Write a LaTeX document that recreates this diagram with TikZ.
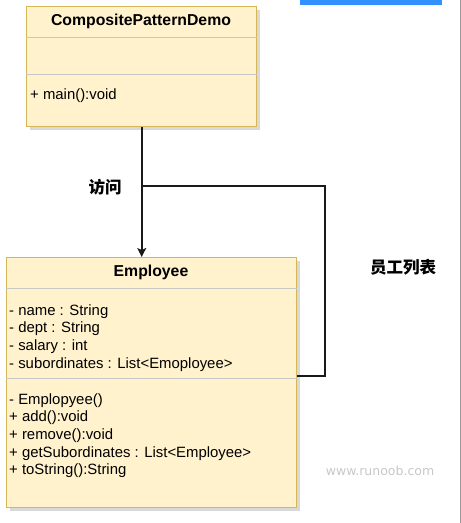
\documentclass[tikz,border=0pt]{standalone}
\usepackage{fontspec}
\setmainfont{Liberation Sans}
\newfontfamily\cjk{Noto Sans CJK SC}
\newfontfamily\markfont{DejaVu Sans}
\usetikzlibrary{arrows.meta, shadows}

\definecolor{umlfill}{HTML}{FFF2CC}
\definecolor{umldraw}{HTML}{D6B656}
\definecolor{sepgray}{HTML}{C8C8C8}
\definecolor{barblue}{HTML}{3390FF}

\begin{document}
\begin{tikzpicture}[x=1pt, y=-1pt]

\tikzset{umlbox/.style = {draw=umldraw, fill=umlfill, line width=1.4pt, anchor=north west, inner sep=0pt,
    drop shadow={shadow xshift=3pt, shadow yshift=-3pt, fill=black!25, opacity=0.6}}}
\tikzset{title/.style = {anchor=base, inner sep=0pt, font=\fontsize{15.8}{18}\selectfont\bfseries}}
\tikzset{member/.style = {anchor=base west, inner sep=0pt, font=\fontsize{14.9}{18}\selectfont}}
\tikzset{sep/.style = {draw=sepgray, line width=1pt}}
\tikzset{edge/.style = {draw=black!90, line width=1.6pt}}
\tikzset{tag/.style = {font=\cjk\fontsize{16.5}{18}\selectfont\bfseries}}

\useasboundingbox (0,0) rectangle (461,523);
%page
\fill[barblue] (300,0) rectangle (442,4.5);
\draw[black!40, line width=1.2pt] (460.3,0) -- (460.3,523);
%boxes
\node[umlbox, minimum width=230pt, minimum height=120pt] (demo) at (26,6) {};
\node[umlbox, minimum width=290pt, minimum height=250pt] (emp) at (6,257) {};
\draw[sep] ([yshift=-31pt]demo.north west) -- ([yshift=-31pt]demo.north east);
\draw[sep] ([yshift=-68pt]demo.north west) -- ([yshift=-68pt]demo.north east);
\draw[sep] ([yshift=-31pt]emp.north west) -- ([yshift=-31pt]emp.north east);
\draw[sep] ([yshift=-121pt]emp.north west) -- ([yshift=-121pt]emp.north east);
%texts
\node[title] (demotitle) at (141,25) {CompositePatternDemo};
\node[member] (demoops) at (30,99) {+ main():void};
\node[title] (emptitle) at (151,276.5) {Employee};
\foreach \txt [count=\i] in {- name : String, - dept : String, - salary : int, - subordinates : List<Emoployee>}
  \node[member] (attr\i) at (9,315-17.7+17.7*\i) {\txt};
\foreach \txt [count=\i] in {- Emplopyee(), + add():void, + remove():void, + getSubordinates : List<Employee>, + toString():String}
  \node[member] (op\i) at (9,404-17.7+17.7*\i) {\txt};
\node[text=black!22, font=\markfont\fontsize{12.5}{14}\selectfont] (site) at (380,471) {www.runoob.com};
%edges
\coordinate (tap) at (141,186);
\coordinate (bend) at (325,376);
\draw[edge, -{Stealth[length=9pt, width=9pt, inset=2pt]}] (demo.south) -- (demo.south |- emp.north);
\draw[edge, line width=1.3pt] (tap) -| (bend) -- (bend -| emp.east);
\node[tag] (visit) at (105,187) {访问};
\node[tag] (list) at (403,267) {员工列表};

\end{tikzpicture}
\end{document}
